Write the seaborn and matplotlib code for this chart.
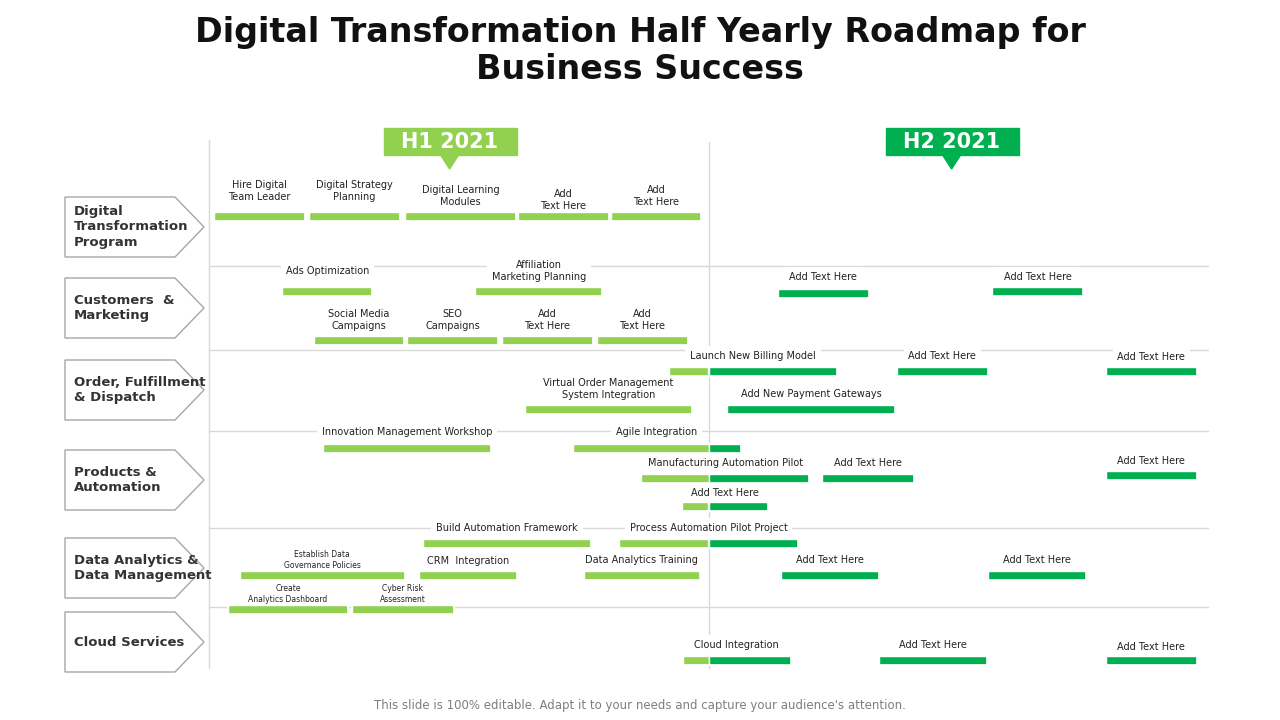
import matplotlib
matplotlib.use("Agg")
import matplotlib.pyplot as plt
import seaborn as sns
from matplotlib.patches import Polygon, Rectangle

sns.set_theme(style="white")
LIGHT, DARK = "#92D050", "#00B050"
PX = 83.25  # pixels per month

# Tasks: label, start month, end month, lane y, label y
labels = ["Hire Digital\nTeam Leader", "Digital Strategy\nPlanning", "Digital Learning\nModules", "Add\nText Here", "Add\nText Here",
          "Ads Optimization", "Affiliation\nMarketing Planning", "Add Text Here", "Add Text Here",
          "Social Media\nCampaigns", "SEO\nCampaigns", "Add\nText Here", "Add\nText Here",
          "Launch New Billing Model", "Add Text Here", "Add Text Here",
          "Virtual Order Management\nSystem Integration", "Add New Payment Gateways",
          "Innovation Management Workshop", "Agile Integration",
          "Manufacturing Automation Pilot", "Add Text Here", "Add Text Here", "Add Text Here",
          "Build Automation Framework", "Process Automation Pilot Project",
          "Establish Data\nGovernance Policies", "CRM  Integration", "Data Analytics Training", "Add Text Here", "Add Text Here",
          "Create\nAnalytics Dashboard", "Cyber Risk\nAssessment",
          "Cloud Integration", "Add Text Here", "Add Text Here"]
starts = [0.06, 1.20, 2.35, 3.71, 4.83,
          0.88, 3.20, 6.83, 9.41,
          1.26, 2.38, 3.52, 4.66,
          5.53, 8.26, 10.77,
          3.80, 6.22,
          1.37, 4.37,
          5.19, 7.36, 10.77, 5.68,
          2.57, 4.92,
          0.37, 2.52, 4.50, 6.87, 9.36,
          0.23, 1.72,
          5.69, 8.05, 10.77]
ends = [1.15, 2.29, 3.69, 4.80, 5.91,
        1.96, 4.72, 7.93, 10.50,
        2.34, 3.47, 4.61, 5.75,
        7.54, 9.36, 11.87,
        5.80, 8.24,
        3.39, 6.39,
        7.21, 8.47, 11.87, 6.71,
        4.59, 7.08,
        2.35, 3.70, 5.90, 8.05, 10.53,
        1.67, 2.94,
        6.99, 9.35, 11.87]
lanes = [216, 216, 216, 216, 216,
         291, 291, 293, 291,
         340, 340, 340, 340,
         371, 371, 371,
         409, 409,
         448, 448,
         478, 478, 475, 506,
         543, 543,
         575, 575, 575, 575, 575,
         609, 609,
         660, 660, 660]
label_y = [191, 191, 196, 200, 196,
           271, 271, 277, 277,
           320, 320, 320, 320,
           356, 356, 357,
           389, 394,
           432, 432,
           463, 463, 461, 493,
           528, 528,
           560, 561, 560, 560, 560,
           594, 594,
           645, 645, 647]
small = {26, 31, 32}

categories = ["Digital\nTransformation\nProgram", "Customers  &\nMarketing", "Order, Fulfillment\n& Dispatch",
              "Products &\nAutomation", "Data Analytics &\nData Management", "Cloud Services"]
cat_top = [197, 278, 360, 450, 538, 612]
separators = [266, 350, 431, 528, 607]
phases = ["H1 2021", "H2 2021"]
phase_center = [2.89, 8.92]
HALF = 6.0

fig = plt.figure(figsize=(12.8, 7.2), dpi=100)
ax = fig.add_axes([0, 0, 1, 1])
x0 = -209 / PX
ax.set_xlim(x0, x0 + 1280 / PX)
ax.set_ylim(720, 0)
ax.axis("off")
w = 1 / PX

# grid
ax.plot([0, 0], [140, 668], color="#D9D9D9", lw=1)
ax.plot([HALF, HALF], [142, 668], color="#D9D9D9", lw=1)
for s in separators:
    ax.plot([0, 12], [s, s], color="#D9D9D9", lw=1)

# labels (white boxes over lines)
for i, lab in enumerate(labels):
    c = (starts[i] + ends[i]) / 2
    ax.text(c, label_y[i], lab, ha="center", va="center", fontsize=5.5 if i in small else 7, color="#222222",
            linespacing=1.3, zorder=3,
            bbox=dict(boxstyle="square,pad=0.5", fc="white", ec="none"))

# bars
for i in range(len(labels)):
    s, e, y = starts[i], ends[i], lanes[i]
    if s < HALF:
        ax.barh(y, min(e, HALF) - s, left=s, height=9, color=LIGHT, zorder=4)
    if e > HALF:
        ax.barh(y, e - max(s, HALF), left=max(s, HALF), height=9, color=DARK, zorder=4)
    ax.barh(y, e - s, left=s, height=9, color="none", edgecolor="white", lw=1.2, zorder=5)

# phase headers
for name, c, col in zip(phases, phase_center, [LIGHT, DARK]):
    ax.add_patch(Rectangle((c - 66 * w, 128), 133 * w, 27, color=col, zorder=5))
    ax.add_patch(Polygon([(c - 9 * w, 155), (c + 9 * w, 155), (c, 169)], color=col, zorder=5))
    ax.text(c, 142, name, ha="center", va="center", color="white", fontsize=15, fontweight="bold", zorder=6)

# category chevrons
for name, t in zip(categories, cat_top):
    L, R = x0 + 65 * w, x0 + 175 * w
    tip = x0 + 204 * w
    ax.add_patch(Polygon([(L, t), (R, t), (tip, t + 30), (R, t + 60), (L, t + 60)], closed=True,
                         fc="white", ec="#A6A6A6", lw=1, zorder=2))
    ax.text(x0 + 74 * w, t + 30, name, ha="left", va="center", fontsize=9.5, fontweight="bold",
            color="#333333", linespacing=1.25, zorder=3)

fig.text(0.5, 1 - 51 / 720, "Digital Transformation Half Yearly Roadmap for\nBusiness Success", ha="center",
         va="center", fontsize=24, fontweight="bold", color="#111111", linespacing=1.15)
fig.text(0.5, 1 - 706 / 720, "This slide is 100% editable. Adapt it to your needs and capture your audience's attention.",
         ha="center", va="center", fontsize=8.5, color="#7F7F7F")
fig.savefig("out.png", dpi=100)
